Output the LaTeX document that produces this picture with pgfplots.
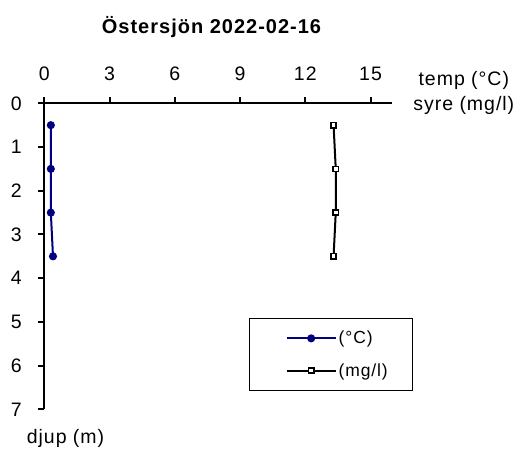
\documentclass[border=0pt]{standalone}
\usepackage{fontspec}
\setmainfont{Liberation Sans}[LetterSpace=5]
\usepackage{pgfplots}
\pgfplotsset{compat=1.18}
\definecolor{tempblue}{RGB}{0,0,128}
\begin{document}
\begin{tikzpicture}[font=\fontsize{19.5}{23}\selectfont]
% 1px = 1pt, origin at the axis corner (44.3px, 103.3px)
\useasboundingbox (-44.3pt,103.3pt) rectangle (473.7pt,-344.7pt);
\begin{axis}[
    at={(0pt,0pt)}, anchor=north west,
    scale only axis, width=348pt, height=306pt,
    xmin=0, xmax=16, ymin=0, ymax=7,
    y dir=reverse,
    axis x line*=top, axis y line*=left,
    axis line style={-, line width=2pt},
    xtick={0,3,6,9,12,15},
    ytick={0,1,...,7},
    tick align=outside,
    major tick length=6pt,
    tick style={line width=2pt, black},
    /pgf/number format/assume math mode=true,
    xticklabel style={yshift=13pt},
    yticklabel style={xshift=-13pt},
    legend style={at={(0.588,0.30)}, anchor=north west, draw=black, line width=1.5pt,
        inner xsep=0pt, inner ysep=11pt, row sep=14pt, font=\fontsize{17.5}{20}\selectfont},
    legend cell align=left,
    legend image code/.code={
        \path (-36pt,0pt);
        \draw[mark repeat=2, mark phase=2, #1] plot coordinates {(0pt,0pt) (24.5pt,0pt) (49pt,0pt)};
    },
]
\addplot[color=tempblue, line width=2pt, mark=*, mark size=3pt, mark options={fill=tempblue}]
    coordinates {(0.3,0.5) (0.3,1.5) (0.3,2.5) (0.4,3.5)};
\addlegendentry{\makebox[72pt][l]{(°C)}}
\addplot[color=black, line width=2pt, mark=square*, mark size=2.6pt, mark options={fill=white, line width=1.5pt}]
    coordinates {(13.3,0.5) (13.4,1.5) (13.4,2.5) (13.3,3.5)};
\addlegendentry{\makebox[72pt][l]{(mg/l)}}
\end{axis}
\node[anchor=base, font=\fontsize{20}{24}\selectfont\bfseries] at (167.2pt,70pt) {Östersjön 2022-02-16};
\node[anchor=base] at (419.5pt,18.3pt) {temp (°C)};
\node[anchor=base] at (419.5pt,-7.6pt) {syre (mg/l)};
\node[anchor=base] at (21.2pt,-339.7pt) {djup (m)};
\end{tikzpicture}
\end{document}
